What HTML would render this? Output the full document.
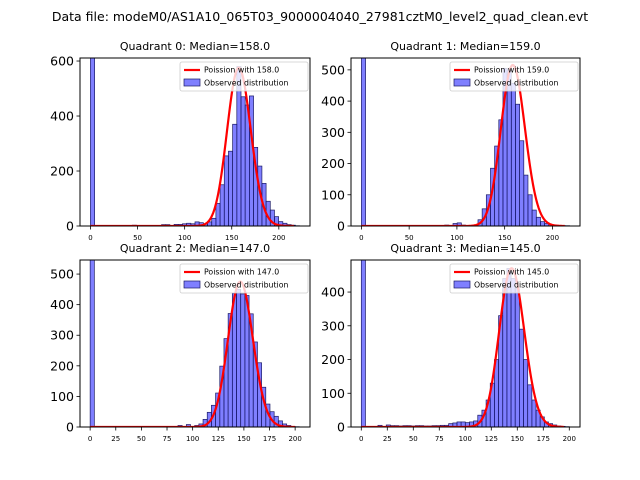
<!DOCTYPE html>
<html><head><meta charset="utf-8"><style>
body{margin:0;background:#fff}
svg{display:block;font-family:"DejaVu Sans","Liberation Sans",sans-serif}
</style></head><body>
<svg id="fig" width="640" height="480" viewBox="0 0 640 480" xmlns="http://www.w3.org/2000/svg">
<rect width="640" height="480" fill="#fff"/>
<text x="320" y="21" text-anchor="middle" font-size="12.5">Data file: modeM0/AS1A10_065T03_9000004040_27981cztM0_level2_quad_clean.evt</text>
</svg>
<script>
const medians=[158.0,159.0,147.0,145.0];
const binWidths=[4.44,4.36,4.08,4.0];
const peakHeights=[575,515,475,470];
const curveMax=[216,213,200,195];
const q0Counts=[2000,0,0,0,0,0,0,0,0,0,3,2,0,0,0,0,0,5,5,0,6,6,8,10,8,15,12,8,15,28,82,150,255,272,370,580,470,440,473,286,218,155,90,58,34,16,10,5,3,1];
const q1Counts=[2000,0,0,0,0,0,0,0,0,0,0,0,0,0,0,0,0,0,0,0,3,0,8,10,3,0,0,0,20,55,100,185,256,340,505,500,457,390,273,163,100,51,28,14,8,5,3,2,1,1];
const q2Counts=[2000,0,0,0,0,0,0,0,0,0,0,0,0,0,0,0,0,0,0,0,2,5,0,8,0,5,10,25,48,71,111,199,289,371,437,450,435,430,370,278,210,130,75,50,35,20,10,5,2,1];
const q3Counts=[2000,0,0,0,5,0,6,4,4,3,4,4,3,4,4,3,3,4,4,5,5,10,12,15,15,13,15,18,35,50,80,130,200,330,440,470,440,410,290,200,125,80,50,30,15,10,6,3,2,1];
const yTicks0=[0,200,400,600];
const yTicks1=[0,100,200,300,400,500];
const yTicks2=[0,100,200,300,400,500];
const yTicks3=[0,100,200,300,400];
const xTicksA=[0,50,100,150,200];
const xTicksB=[0,25,50,75,100,125,150,175,200];

const NS="http://www.w3.org/2000/svg";
const fig=document.getElementById('fig');
function mk(tag,attrs,parent){const e=document.createElementNS(NS,tag);for(const k in attrs)e.setAttribute(k,attrs[k]);(parent||fig).appendChild(e);return e;}
function lnG(x){
  if(x<1){return 0;}
  return x*Math.log(x)-x+0.5*Math.log(2*Math.PI*x)+1/(12*x);
}
const panels=[
 {L:80,R:310,T:58,B:226,xlim:[-11.1,233.1],ylim:611,counts:q0Counts,yt:yTicks0,xt:xTicksA},
 {L:351,R:580,T:58,B:226,xlim:[-10.9,228.9],ylim:538,counts:q1Counts,yt:yTicks1,xt:xTicksA},
 {L:80,R:310,T:260,B:427,xlim:[-9.9,214.5],ylim:546,counts:q2Counts,yt:yTicks2,xt:xTicksB},
 {L:351,R:580,T:260,B:427,xlim:[-9.9,210.3],ylim:495,counts:q3Counts,yt:yTicks3,xt:xTicksB}
];
panels.forEach((p,qi)=>{
  const xs=v=>p.L+(v-p.xlim[0])/(p.xlim[1]-p.xlim[0])*(p.R-p.L);
  const ys=v=>p.B-v/p.ylim*(p.B-p.T);
  const g=mk('g',{});
  
  
  const cid='clip'+qi;
  const cp=mk('clipPath',{id:cid},g);mk('rect',{x:p.L,y:p.T,width:p.R-p.L,height:p.B-p.T},cp);
  const plot=mk('g',{'clip-path':'url(#'+cid+')'},g);
  const w=binWidths[qi];
  p.counts.forEach((c,i)=>{
    if(c<=0)return;
    const x0=xs(i*w),x1=xs((i+1)*w);
    const r=mk('rect',{x:x0,y:ys(c),width:x1-x0,height:ys(0)-ys(c),fill:'rgba(0,0,255,0.5)',stroke:'#1a1a66','stroke-width':0.7},plot);
    
    
  });
  const lam=medians[qi];
  const lp=x=>x*Math.log(lam)-lam-lnG(x);
  const scale=peakHeights[qi]/Math.exp(lp(lam));
  let d='';
  for(let x=0;x<=curveMax[qi];x+=0.5){
    const y=x<1?0:scale*Math.exp(lp(x));
    d+=(d?'L':'M')+xs(x).toFixed(2)+','+ys(y).toFixed(2);
  }
  const pl=mk('path',{d:d,fill:'none',stroke:'#ff0000','stroke-width':2.2},plot);
  
  
  mk('rect',{x:p.L,y:p.T,width:p.R-p.L,height:p.B-p.T,fill:'none',stroke:'#000','stroke-width':1},g);
  p.yt.forEach(v=>{
    const y=ys(v);
    mk('line',{x1:p.L-3.5,x2:p.L,y1:y,y2:y,stroke:'#000','stroke-width':0.8},g);
    const t=mk('text',{x:p.L-6,y:y+4.5,'text-anchor':'end','font-size':12.5},g);t.textContent=v;
    
    
  });
  p.xt.forEach(v=>{
    const x=xs(v);
    mk('line',{x1:x,x2:x,y1:p.B,y2:p.B+3.5,stroke:'#000','stroke-width':0.8},g);
    const t=mk('text',{x:x,y:p.B+14,'text-anchor':'middle','font-size':7},g);t.textContent=v;
    
    
  });
  const tt=mk('text',{x:(p.L+p.R)/2,y:p.T-8,'text-anchor':'middle','font-size':11},g);
  tt.textContent='Quadrant '+qi+': Median='+lam.toFixed(1);
  
  
  const lg=mk('g',{},g);
  
  
  const lx=p.R-130,ly=p.T+4;
  mk('rect',{x:lx,y:ly,width:128,height:29,fill:'#fff','fill-opacity':0.8,stroke:'#ccc','stroke-width':0.8,rx:2},lg);
  mk('line',{x1:lx+4,x2:lx+20,y1:ly+8,y2:ly+8,stroke:'#ff0000','stroke-width':2.2},lg);
  const t1=mk('text',{x:lx+24,y:ly+10.5,'font-size':7.8},lg);t1.textContent='Poission with '+lam.toFixed(1);
  mk('rect',{x:lx+4,y:ly+17,width:16,height:7,fill:'rgba(0,0,255,0.5)',stroke:'#1a1a66','stroke-width':0.7},lg);
  const t2=mk('text',{x:lx+24,y:ly+23.5,'font-size':7.8},lg);t2.textContent='Observed distribution';
});
</script>
</body></html>
